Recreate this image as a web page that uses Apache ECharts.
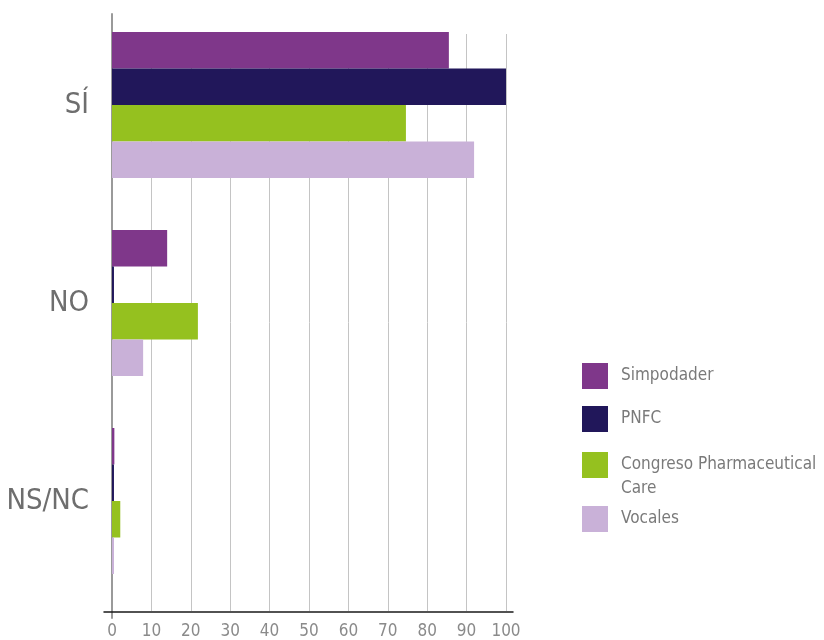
<!DOCTYPE html>
<html>
<head>
<meta charset="utf-8">
<script src="https://cdn.jsdelivr.net/npm/echarts@6/dist/echarts.min.js"></script>
<style>
html,body{margin:0;padding:0;background:#fff;}
#c{width:824px;height:640px;}
</style>
</head>
<body>
<div id="c"></div>
<script>
const categories = ['SÍ', 'NO', 'NS/NC'];
const seriesNames = ['Simpodader', 'PNFC', 'Congreso Pharmaceutical Care', 'Vocales'];
const simpodader = [85.5, 14, 0.6];
const pnfc = [100, 0.5, 0.5];
const congreso = [74.6, 21.8, 2.1];
const vocales = [91.9, 7.9, 0.5];
const xTicks = [0, 10, 20, 30, 40, 50, 60, 70, 80, 90, 100];
const colors = ['#7f378a', '#21175a', '#95c11f', '#c9b1d8'];

const FONT = '"DejaVu Sans Condensed", "DejaVu Sans", sans-serif';
const chart = echarts.init(document.getElementById('c'), null, {renderer: 'canvas'});

const values = [simpodader, pnfc, congreso, vocales];
const legendTops = [363, 406, 429, 506];

const legends = seriesNames.map((n, i) => {
  const multi = n === 'Congreso Pharmaceutical Care';
  return {
    data: [n],
    orient: 'vertical',
    left: 582,
    top: legendTops[i],
    padding: 0,
    icon: 'rect',
    itemWidth: 26,
    itemHeight: 26,
    selectedMode: false,
    formatter: nm => nm === 'Congreso Pharmaceutical Care' ? '\nCongreso Pharmaceutical\nCare' : nm,
    textStyle: Object.assign({
      fontFamily: FONT,
      fontSize: 17,
      color: '#7a7a7a',
      padding: [0, 0, 0, 8]
    }, multi ? {lineHeight: 24} : {})
  };
});

chart.setOption({
  animation: false,
  backgroundColor: '#ffffff',
  legend: legends,
  grid: [
    {left: 112, width: 394, top: 6, height: 594},
    {left: 112, width: 394, top: 34, height: 578},
    {left: 104, width: 409, top: 34, height: 578},
    {left: 112, width: 394, top: 14, height: 604}
  ],
  xAxis: [
    {gridIndex: 0, type: 'value', min: 0, max: 100, show: false},
    {gridIndex: 1, type: 'value', min: 0, max: 100, interval: 10,
      axisLine: {show: false}, axisTick: {show: false},
      splitLine: {show: true, lineStyle: {color: '#c4c4c4', width: 1}},
      axisLabel: {fontFamily: FONT, fontSize: 17, color: '#8a8a8a', margin: 12,
        formatter: v => xTicks.indexOf(v) >= 0 ? String(v) : ''}},
    {gridIndex: 2, type: 'value', min: 0, max: 1,
      axisLine: {show: true, lineStyle: {color: '#1a1a1a', width: 1.5}},
      axisTick: {show: false}, axisLabel: {show: false}, splitLine: {show: false}},
    {gridIndex: 3, type: 'value', min: 0, max: 1, show: false}
  ],
  yAxis: [
    {gridIndex: 0, type: 'category', data: categories, inverse: true,
      axisLine: {show: false}, axisTick: {show: false},
      axisLabel: {fontFamily: FONT, fontSize: 29, color: '#6e6e6e', margin: 23}},
    {gridIndex: 1, type: 'value', show: false},
    {gridIndex: 2, type: 'value', show: false},
    {gridIndex: 3, type: 'value', min: 0, max: 1,
      axisLine: {show: true, lineStyle: {color: '#9a9a9a', width: 2}},
      axisTick: {show: false}, axisLabel: {show: false}, splitLine: {show: false}}
  ],
  series: seriesNames.map((n, i) => ({
    name: n,
    type: 'bar',
    xAxisIndex: 0,
    yAxisIndex: 0,
    data: values[i],
    barWidth: 36.5,
    barGap: '0%',
    itemStyle: {color: colors[i]},
    z: 3
  }))
});
</script>
</body>
</html>
